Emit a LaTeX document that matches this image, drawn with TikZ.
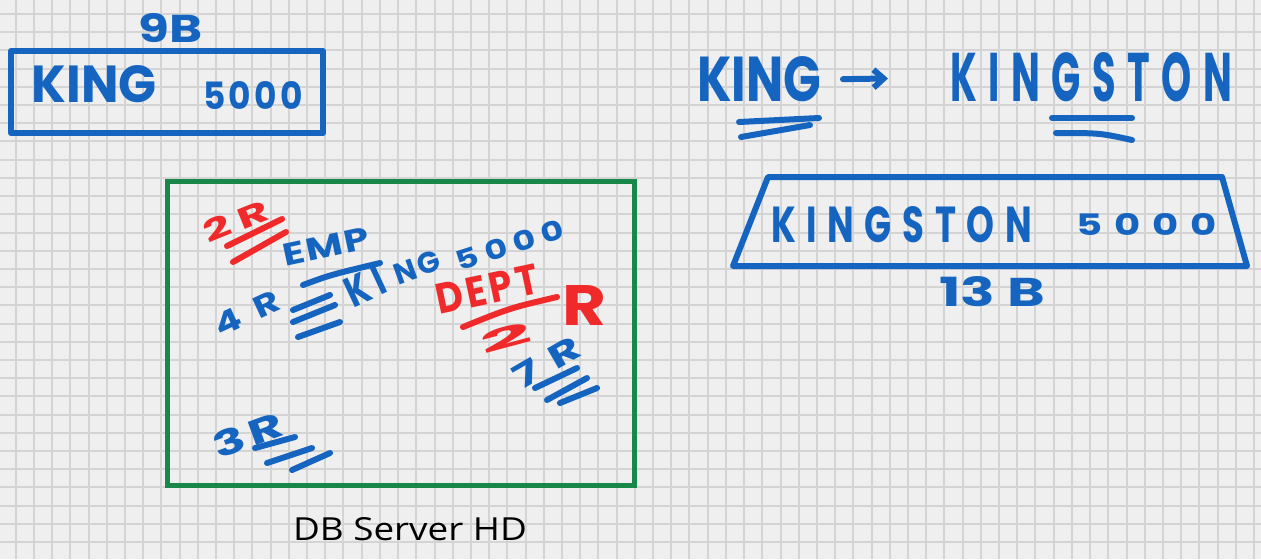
\documentclass[tikz,border=0pt]{standalone}
\usepackage{fontspec}
\setmainfont{Poppins}
\newfontfamily\dbfont{Open Sans}
\usetikzlibrary{arrows.meta}
\definecolor{bg}{HTML}{EFEFEF}
\definecolor{gridc}{HTML}{D4D4D4}
\definecolor{mblue}{HTML}{1565C0}
\definecolor{mred}{HTML}{F02A2A}
\definecolor{mgreen}{HTML}{17884A}
\newcommand{\fitt}[4]{\resizebox{#1pt}{#2pt}{\bfseries\addfontfeatures{LetterSpace=#3}#4}}
\begin{document}
\begin{tikzpicture}[x=0.5pt,y=-0.5pt,
  hw/.style={inner sep=0pt, outer sep=0pt, text=mblue},
  hwr/.style={hw, text=mred},
  stroke/.style={mblue, line width=3pt, line cap=round},
  strokered/.style={stroke, mred},
  box/.style={draw=mblue, line width=3pt, line join=round, inner sep=0pt},
  gbox/.style={draw=mgreen, line width=2.5pt, inner sep=0pt}]
\fill[bg] (0,0) rectangle (1261,559);
\useasboundingbox (0,0) rectangle (1261,559);
\foreach \i in {0,...,68} \draw[gridc, line width=1pt] ({15.7+\i*18.21},0) -- ({15.7+\i*18.21},559);
\foreach \i in {0,...,29} \draw[gridc, line width=1pt] (0,{14+\i*18.21}) -- (1261,{14+\i*18.21});

% left record
\node[hw] (nineb) at (171,28) {\fitt{32}{14.5}{0}{9B}};
\node[box, minimum width=156pt, minimum height=41pt] (kbox) at (167,92) {};
\node[hw] (king1) at (94.5,84.5) {\fitt{62.5}{18.5}{0}{KING}};
\node[hw] (num1) at (253,95) {\fitt{50}{14}{10}{5000}};

% DB server
\node[gbox, minimum width=233.5pt, minimum height=152pt] (disk) at (400.5,333) {};
\node[inner sep=0pt] (dbl) at (410,529) {\dbfont\resizebox{117pt}{11.5pt}{DB Server HD}};

\node[hwr, rotate=22] (r2a) at (236,221) {\fitt{34}{11}{20}{2R}};
\draw[strokered] (227,246) -- (282,219);
\draw[strokered] (233,262) -- (286,232);

\node[hw, rotate=12] (emp) at (326,247) {\fitt{44}{11}{5}{EMP}};
\draw[stroke] (303,285) .. controls (330,275) .. (380,263);
\node[hw, rotate=25] (r4) at (247,313) {\fitt{34}{11}{40}{4R}};
\draw[stroke] (293,310) -- (330,295);
\draw[stroke] (293,322) -- (335,305);
\draw[stroke] (298,337) -- (340,322);

\node[hw, rotate=25] (ki) at (365,286) {\fitt{20}{15}{20}{KI}};
\node[hw, rotate=20] (ng) at (417,267) {\fitt{24}{10.5}{10}{NG}};
\node[hw, rotate=18] (num2) at (510,245) {\fitt{56}{10}{20}{5000}};

\node[hwr, rotate=12] (dept) at (487,289) {\fitt{52}{15}{10}{DEPT}};
\draw[strokered] (463,327) .. controls (510,308) .. (557,297);
\node[hwr] (rr) at (584,305) {\fitt{22}{20}{0}{R}};
\node[hwr, rotate=15] (two) at (506,338) {\fitt{26}{10.5}{0}{2}};

\node[hw, rotate=30] (r7) at (547,362) {\fitt{36}{12}{30}{7R}};
\draw[stroke] (535,388) -- (577,368);
\draw[stroke] (547,400) -- (587,378);
\draw[stroke] (560,403) -- (597,388);

\node[hw, rotate=20] (r3) at (248,435) {\fitt{36}{13}{10}{3R}};
\draw[stroke] (255,448) -- (295,437);
\draw[stroke] (267,463) -- (312,448);
\draw[stroke] (292,470) -- (330,453);

% right side
\node[hw] (king2) at (759,79.5) {\fitt{62}{22.5}{0}{KING}};
\node[hw] (kingston) at (1091,77.5) {\fitt{141}{24.5}{30}{KINGSTON}};
\draw[stroke, -{Straight Barb[length=5pt,width=9pt]}, shorten <=11pt, shorten >=31pt] (king2.east) -- (kingston.west);
\draw[stroke] (739,122) -- (819,118);
\draw[stroke] (741,137) -- (810,125);
\draw[stroke] (1052,118) -- (1132,118);
\draw[stroke] (1056,133) .. controls (1100,133) .. (1132,140);

\coordinate (t1) at (768,177);
\coordinate (t2) at (1222,177);
\coordinate (t3) at (1247,266);
\coordinate (t4) at (733,266);
\draw[mblue, line width=3pt, line join=round] (t1) -- (t2) -- (t3) -- (t4) -- cycle;
\node[hw] (kingston2) at (901.5,225) {\fitt{130.5}{18}{30}{KINGSTON}};
\node[hw] (num3) at (1146.5,224) {\fitt{70.5}{11}{30}{5000}};
\node[hw] (thirteen) at (992,292) {\fitt{53}{15}{0}{13 B}};
\end{tikzpicture}
\end{document}
